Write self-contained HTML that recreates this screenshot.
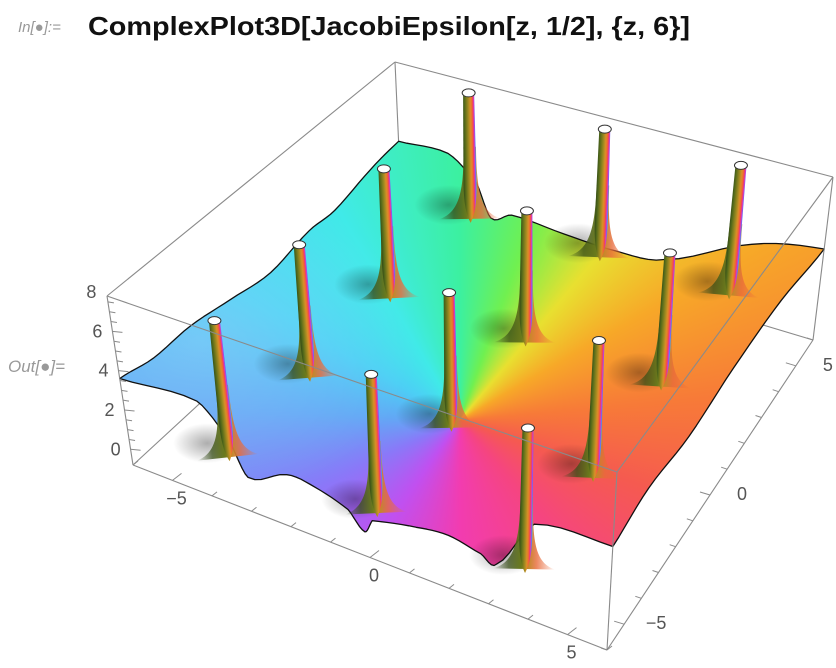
<!DOCTYPE html>
<html><head><meta charset="utf-8"><style>
html,body{margin:0;padding:0;background:#fff;}
#wrap{position:relative;width:836px;height:668px;overflow:hidden;font-family:"Liberation Sans",sans-serif;}
svg{position:absolute;left:0;top:0;}
#surf{position:absolute;left:0;top:0;width:836px;height:668px;}
</style></head><body>
<div id="wrap">
<svg id="back" width="836" height="668"></svg>
<div id="surf"></div>
<svg id="front" width="836" height="668">
<defs>
<linearGradient id="tube" gradientUnits="userSpaceOnUse" x1="-7" y1="0" x2="7" y2="0">
<stop offset="0" stop-color="#2c4416"/><stop offset="0.2" stop-color="#556b1a"/><stop offset="0.45" stop-color="#a08a20"/>
<stop offset="0.6" stop-color="#d89028"/><stop offset="0.72" stop-color="#f06a30"/><stop offset="0.8" stop-color="#f0386a"/>
<stop offset="0.86" stop-color="#d040d0"/><stop offset="0.91" stop-color="#6a60f0"/><stop offset="0.96" stop-color="#40c8e8"/><stop offset="1" stop-color="#60e070"/>
</linearGradient>
<linearGradient id="flare" gradientUnits="userSpaceOnUse" x1="-32" y1="0" x2="30" y2="0">
<stop offset="0" stop-color="#2a401a" stop-opacity="0"/><stop offset="0.25" stop-color="#3a5018" stop-opacity="0.75"/>
<stop offset="0.45" stop-color="#6a7a1c" stop-opacity="1"/><stop offset="0.56" stop-color="#c08a28" stop-opacity="1"/>
<stop offset="0.7" stop-color="#e86a3a" stop-opacity="0.8"/><stop offset="1" stop-color="#e86a3a" stop-opacity="0"/>
</linearGradient>
<radialGradient id="shadow"><stop offset="0" stop-color="#000" stop-opacity="0.32"/><stop offset="1" stop-color="#000" stop-opacity="0"/></radialGradient>
</defs>
<text x="18" y="32" font-size="15" font-style="italic" fill="#999">In[●]:=</text>
<text x="88" y="35" font-size="26" font-weight="bold" fill="#111" textLength="602" lengthAdjust="spacingAndGlyphs">ComplexPlot3D[JacobiEpsilon[z, 1/2], {z, 6}]</text>
<text x="8" y="372" font-size="17" font-style="italic" fill="#999">Out[●]=</text>
<g id="spikes"></g>
<g id="boxfront"></g>
<g id="ticks"></g>
</svg>
</div>
<script>
// ---- data ----
const poleRe = [-3.708, 0, 3.708];
const poleIm = [-5.562, -1.854, 1.854, 5.562];
const frontX = [-6,-4.1,-3.4,-3.0,-2.0,-1.3,-0.5,-0.1,0.1,1.2,2.0,2.8,3.2,4.1,6];
const frontZ = [3.6,3.9,2.5,0.9,1.8,1.7,1.2,0.4,1.1,1.6,1.8,1.5,1.3,3.9,4.2];
const rightY = [-6,-4,-1.7,0.8,3.5,6];
const rightZ = [4.2,4.6,4.3,4.6,4.6,4.0];
const backX = [-6,-4.6,-3.8,-3.4,-2.8,-1.3,0.2,1.6,4.0,6];
const backZ = [3.4,3.5,2.3,0.6,1.1,0.9,0.8,1.1,3.2,4.0];
const leftY = [-6,-4.6,-3,-1.3,0.4,2.1,3.2,4.8,6];
const leftZ = [3.6,3.2,3.2,2.8,2.4,2.8,2.7,3.2,3.4];
const xTicks = [-5,0,5], yTicks = [-5,0,5], zTicks = [0,2,4,6,8];
const zMin = -0.8, zMax = 7.8, poleCapZ = 7.8, poleBaseZ = 0.9;

// ---- projection (box corners: L=(-6,-6) F=(6,-6) B=(-6,6) R=(6,6)) ----
const TOP = {L:[107,296],F:[617,472],B:[395,62],R:[833,177]};
const BOT = {L:[133,465],F:[607,650],B:[402,217],R:[813,340]};
function bil(Q,u,v){
  const a=(1-u)*(1-v),b=u*(1-v),c=(1-u)*v,d=u*v;
  return [Q.L[0]*a+Q.F[0]*b+Q.B[0]*c+Q.R[0]*d, Q.L[1]*a+Q.F[1]*b+Q.B[1]*c+Q.R[1]*d];
}
function proj(x,y,z){
  const u=(x+6)/12,v=(y+6)/12,t=(z-zMin)/(zMax-zMin);
  const p=bil(TOP,u,v),q=bil(BOT,u,v);
  return [q[0]+(p[0]-q[0])*t, q[1]+(p[1]-q[1])*t];
}
// smooth samples (Catmull-Rom) along an edge
function smooth(xs,zs){
  const out=[];
  for(let i=0;i<xs.length-1;i++){
    const z0=zs[Math.max(0,i-1)],z1=zs[i],z2=zs[i+1],z3=zs[Math.min(zs.length-1,i+2)];
    for(let k=0;k<6;k++){
      const t=k/6,t2=t*t,t3=t2*t;
      const z=0.5*((2*z1)+(-z0+z2)*t+(2*z0-5*z1+4*z2-z3)*t2+(-z0+3*z1-3*z2+z3)*t3);
      out.push([xs[i]+(xs[i+1]-xs[i])*t,z]);
    }
  }
  out.push([xs[xs.length-1],zs[zs.length-1]]);
  return out;
}
const NS='http://www.w3.org/2000/svg';
function mk(tag,attrs,parent){const e=document.createElementNS(NS,tag);for(const k in attrs)e.setAttribute(k,attrs[k]);parent.appendChild(e);return e;}

// ---- surface boundary ----
const pts=[];
smooth(frontX,frontZ).forEach(s=>pts.push(proj(s[0],-6,s[1])));
smooth(rightY,rightZ).slice(1).forEach(s=>pts.push(proj(6,s[0],s[1])));
smooth(backX,backZ).reverse().slice(1).forEach(s=>pts.push(proj(s[0],6,s[1])));
const ls=smooth(leftY,leftZ).reverse();
ls.slice(1,ls.length-1).forEach(s=>pts.push(proj(-6,s[0],s[1])));
const surf=document.getElementById('surf');
surf.style.clipPath='polygon('+pts.map(p=>p[0].toFixed(1)+'px '+p[1].toFixed(1)+'px').join(',')+')';
surf.style.background='radial-gradient(ellipse 220px 160px at 200px 340px, rgba(255,255,255,0.18), rgba(255,255,255,0) 100%), conic-gradient(from 0deg at 460px 420px, #3cf0a0 0deg, #70f050 20deg, #e8e030 40deg, #f7a828 60deg, #f77a38 85deg, #f55a50 110deg, #f54580 140deg, #f23cb0 180deg, #c050f0 215deg, #8a78f8 245deg, #62a8f5 272deg, #4ccff5 300deg, #40eae8 330deg, #3cf0a0 360deg)';

const back=document.getElementById('back');
const front=document.getElementById('front');
const lineStyle={stroke:'#8a8a8a','stroke-width':1.1,fill:'none'};
function edge(parent,a,b,name){
  const e=mk('line',Object.assign({x1:a[0],y1:a[1],x2:b[0],y2:b[1]},lineStyle),parent);
  
  
}
edge(back,proj(-6,-6,zMin),proj(-6,6,zMin),'box-edge-bottom-left');
edge(back,proj(-6,6,zMin),proj(6,6,zMin),'box-edge-bottom-back');
edge(back,proj(-6,6,zMin),proj(-6,6,zMax),'box-edge-back-vertical');

const spikesG=document.getElementById('spikes');
const outline=mk('polygon',{points:pts.map(p=>p[0].toFixed(1)+','+p[1].toFixed(1)).join(' '),fill:'none',stroke:'#111','stroke-width':1.3,'stroke-linejoin':'round'},spikesG);



// spikes
const poles=[];
poleIm.forEach(im=>poleRe.forEach(re=>poles.push({re,im})));
poles.map(p=>({p,cap:proj(p.re,p.im,poleCapZ),base:proj(p.re,p.im,poleBaseZ)}))
 .sort((a,b)=>a.cap[1]-b.cap[1])
 .forEach(s=>{
  const dx=s.base[0]-s.cap[0],dy=s.base[1]-s.cap[1];
  const L=Math.hypot(dx,dy),ang=Math.atan2(dx,dy)*180/Math.PI;
  const sh=mk('ellipse',{cx:s.base[0]-22,cy:s.base[1]-14,rx:34,ry:20,fill:'url(#shadow)'},spikesG);
  
  
  const g=mk('g',{transform:`translate(${s.cap[0].toFixed(1)},${s.cap[1].toFixed(1)}) rotate(${(-ang).toFixed(2)})`},spikesG);
  
  
  mk('path',{d:`M -6,${L-72} C -6,${L-25} -12,${L-6} -32,${L} L 30,${L} C 11,${L-6} 6.5,${L-25} 6.5,${L-72} Z`,fill:'url(#flare)'},g);
  mk('path',{d:`M -5.5,0 L -6.5,${L-40} C -6.8,${L-14} -4,${L-4} 0,${L+4} C 4,${L-4} 6.8,${L-14} 6.5,${L-40} L 5.5,0 Z`,fill:'url(#tube)'},g);
  const cap=mk('ellipse',{cx:s.cap[0],cy:s.cap[1],rx:6.5,ry:4,fill:'#fff',stroke:'#333','stroke-width':1},spikesG);
  
  
});

const bf=document.getElementById('boxfront');
edge(bf,proj(-6,-6,zMax),proj(6,-6,zMax),'box-edge-top-front');
edge(bf,proj(6,-6,zMax),proj(6,6,zMax),'box-edge-top-right');
edge(bf,proj(-6,-6,zMax),proj(-6,6,zMax),'box-edge-top-left');
edge(bf,proj(-6,6,zMax),proj(6,6,zMax),'box-edge-top-back');
edge(bf,proj(-6,-6,zMin),proj(-6,-6,zMax),'z-axis-line');
edge(bf,proj(6,-6,zMin),proj(6,-6,zMax),'box-edge-front-vertical');
edge(bf,proj(6,6,zMin),proj(6,6,zMax),'box-edge-right-vertical');
edge(bf,proj(-6,-6,zMin),proj(6,-6,zMin),'x-axis-line');
edge(bf,proj(6,-6,zMin),proj(6,6,zMin),'y-axis-line');

const tg=document.getElementById('ticks');
function tick(a,dxv,dyv,name){
  const e=mk('line',{x1:a[0],y1:a[1],x2:a[0]+dxv,y2:a[1]+dyv,stroke:'#8a8a8a','stroke-width':1},tg);
  
  
}
function label(txt,x,y,name){
  const e=mk('text',{x:x,y:y,'font-size':18,fill:'#555','text-anchor':'middle'},tg);
  e.textContent=txt;
  
  
}
for(let x=-6;x<=6;x++){const a=proj(x,-6,zMin);const m=xTicks.includes(x);tick(a,m?9:5,m?-7:-4,'x-tick');}
for(let y=-6;y<=6;y++){const a=proj(6,y,zMin);const m=yTicks.includes(y);tick(a,m?-10:-6,m?-3:-2,'y-tick');}
for(let z=0;z<=7.8;z+=0.5){const a=proj(-6,-6,z);const m=zTicks.includes(z);tick(a,m?10:6,1,'z-tick');}
xTicks.forEach(x=>{const a=proj(x,-6,zMin);label(String(x).replace('-','\u2212'),a[0]+4,a[1]+24,'x-tick-label');});
yTicks.forEach(y=>{const a=proj(6,y,zMin);label(String(y).replace('-','\u2212'),a[0]+32,a[1]+5,'y-tick-label');});
zTicks.forEach(z=>{const a=proj(-6,-6,z);label(String(z),a[0]-15,a[1]+6,'z-tick-label');});
</script>
</body></html>
